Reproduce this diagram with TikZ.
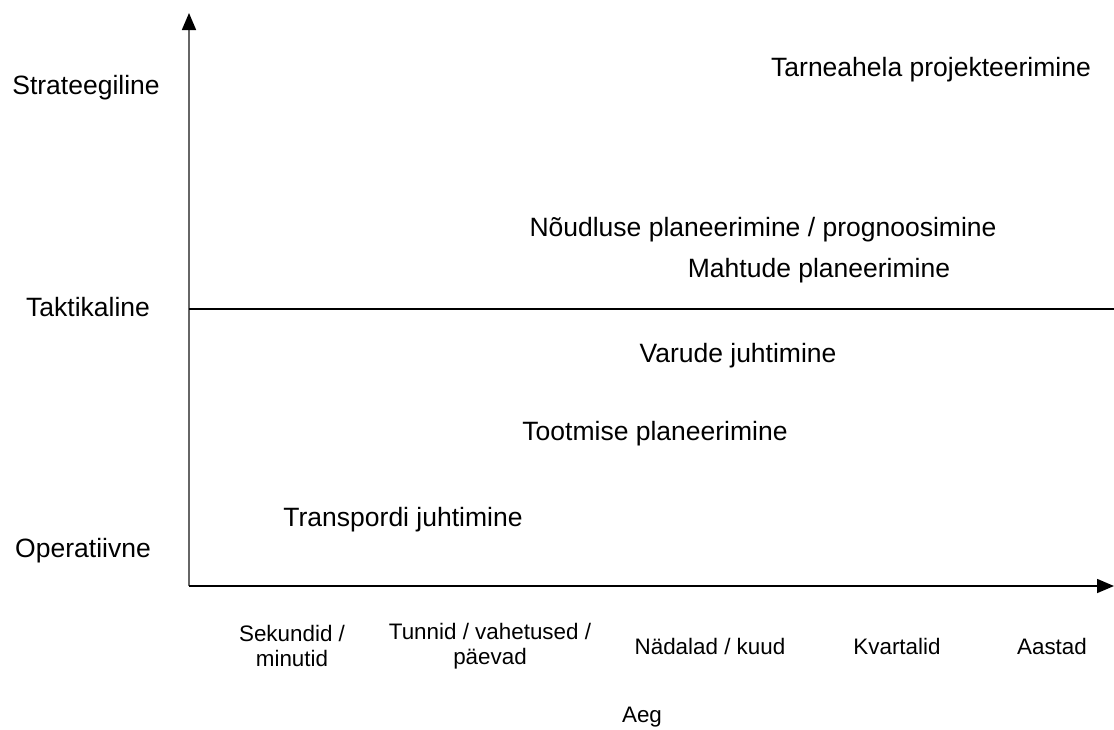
\documentclass[tikz,border=0pt]{standalone}
\usepackage{fontspec}
\setmainfont{Liberation Sans}
\usetikzlibrary{arrows.meta}
\begin{document}
\begin{tikzpicture}[x=1pt,y=-1pt,
  level/.style={font=\fontsize{26.5}{30}\selectfont, inner sep=0pt},
  task/.style={font=\fontsize{26.5}{30}\selectfont, inner sep=0pt},
  period/.style={font=\fontsize{22.4}{25.5}\selectfont, inner sep=0pt, align=center},
  axis/.style={line width=1.6pt, -{Triangle[length=17pt,width=14pt,color=black]}},
  divider/.style={line width=1.6pt}]
\useasboundingbox (0,0) rectangle (1114,729);

% axes
\coordinate (origin) at (189,586);
\coordinate (ytop) at (189,13);
\coordinate (xend) at (1114,586);
\coordinate (midL) at (189,309);
\coordinate (midR) at (1114,309);
\draw[axis, draw=black!60] (origin) -- (ytop);
\draw[axis] (origin) -- (xend);
\draw[divider] (midL) -- (midR);

% levels on the vertical axis
\node[level] (strat) at (86,88) {Strateegiline};
\node[level] (takt) at (88,307) {Taktikaline};
\node[level] (oper) at (83,551) {Operatiivne};

% planning tasks
\node[task] (tarne) at (931,70) {Tarneahela projekteerimine};
\node[task] (noud) at (763,230) {Nõudluse planeerimine / prognoosimine};
\node[task] (maht) at (819,271) {Mahtude planeerimine};
\node[task] (varud) at (738,356) {Varude juhtimine};
\node[task] (toot) at (655,434) {Tootmise planeerimine};
\node[task] (transp) at (403,520) {Transpordi juhtimine};

% time scale
\node[period] (sek) at (292,646) {Sekundid /\\minutid};
\node[period] (tunnid) at (490,646) {Tunnid / vahetused /\\päevad};
\node[period] (nadal) at (710,646) {Nädalad / kuud};
\node[period] (kvart) at (897,646) {Kvartalid};
\node[period] (aastad) at (1052,646) {Aastad};
\node[period] (aeg) at (642,717) {Aeg};
\end{tikzpicture}
\end{document}
